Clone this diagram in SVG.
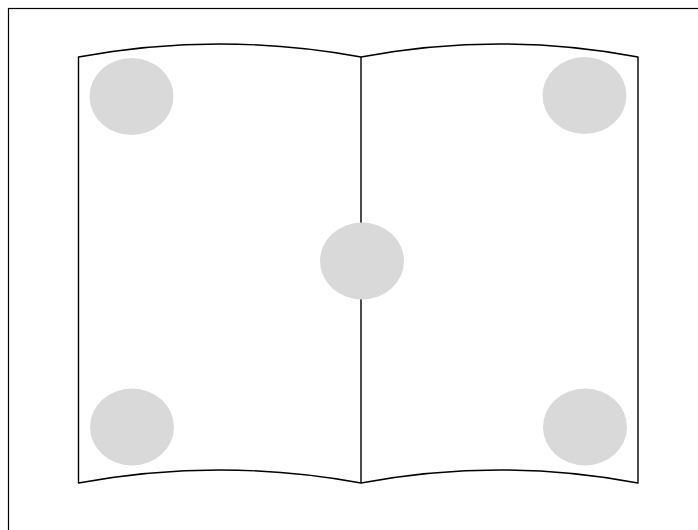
<svg xmlns="http://www.w3.org/2000/svg" width="698" height="530" viewBox="0 0 698 530">
<style>
.line{fill:none;stroke:#000;stroke-width:1.4}
.dot{fill:#d9d9d9;stroke:none}
</style>
<rect width="698" height="530" fill="#fff"/>
<rect x="8.5" y="8.5" width="700" height="540" fill="none" stroke="#000" stroke-width="1.2"/>
<g id="book">
<path class="line" d="M78.5,483 V57 Q220,31 361,57 Q500,31 638,57 V483 Q500,457 361,483 Q220,457 78.5,483 Z"/>
<path class="line" d="M361,57 V483"/>
</g>
<g id="dot-tl"><ellipse class="dot" cx="131.5" cy="96.5" rx="42" ry="38.5"/></g>
<g id="dot-tr"><ellipse class="dot" cx="584.5" cy="95.5" rx="42" ry="38.5"/></g>
<g id="dot-c"><ellipse class="dot" cx="362" cy="261" rx="42" ry="38.5"/></g>
<g id="dot-bl"><ellipse class="dot" cx="132" cy="427" rx="42" ry="38.5"/></g>
<g id="dot-br"><ellipse class="dot" cx="585" cy="427" rx="42" ry="38.5"/></g>
</svg>
